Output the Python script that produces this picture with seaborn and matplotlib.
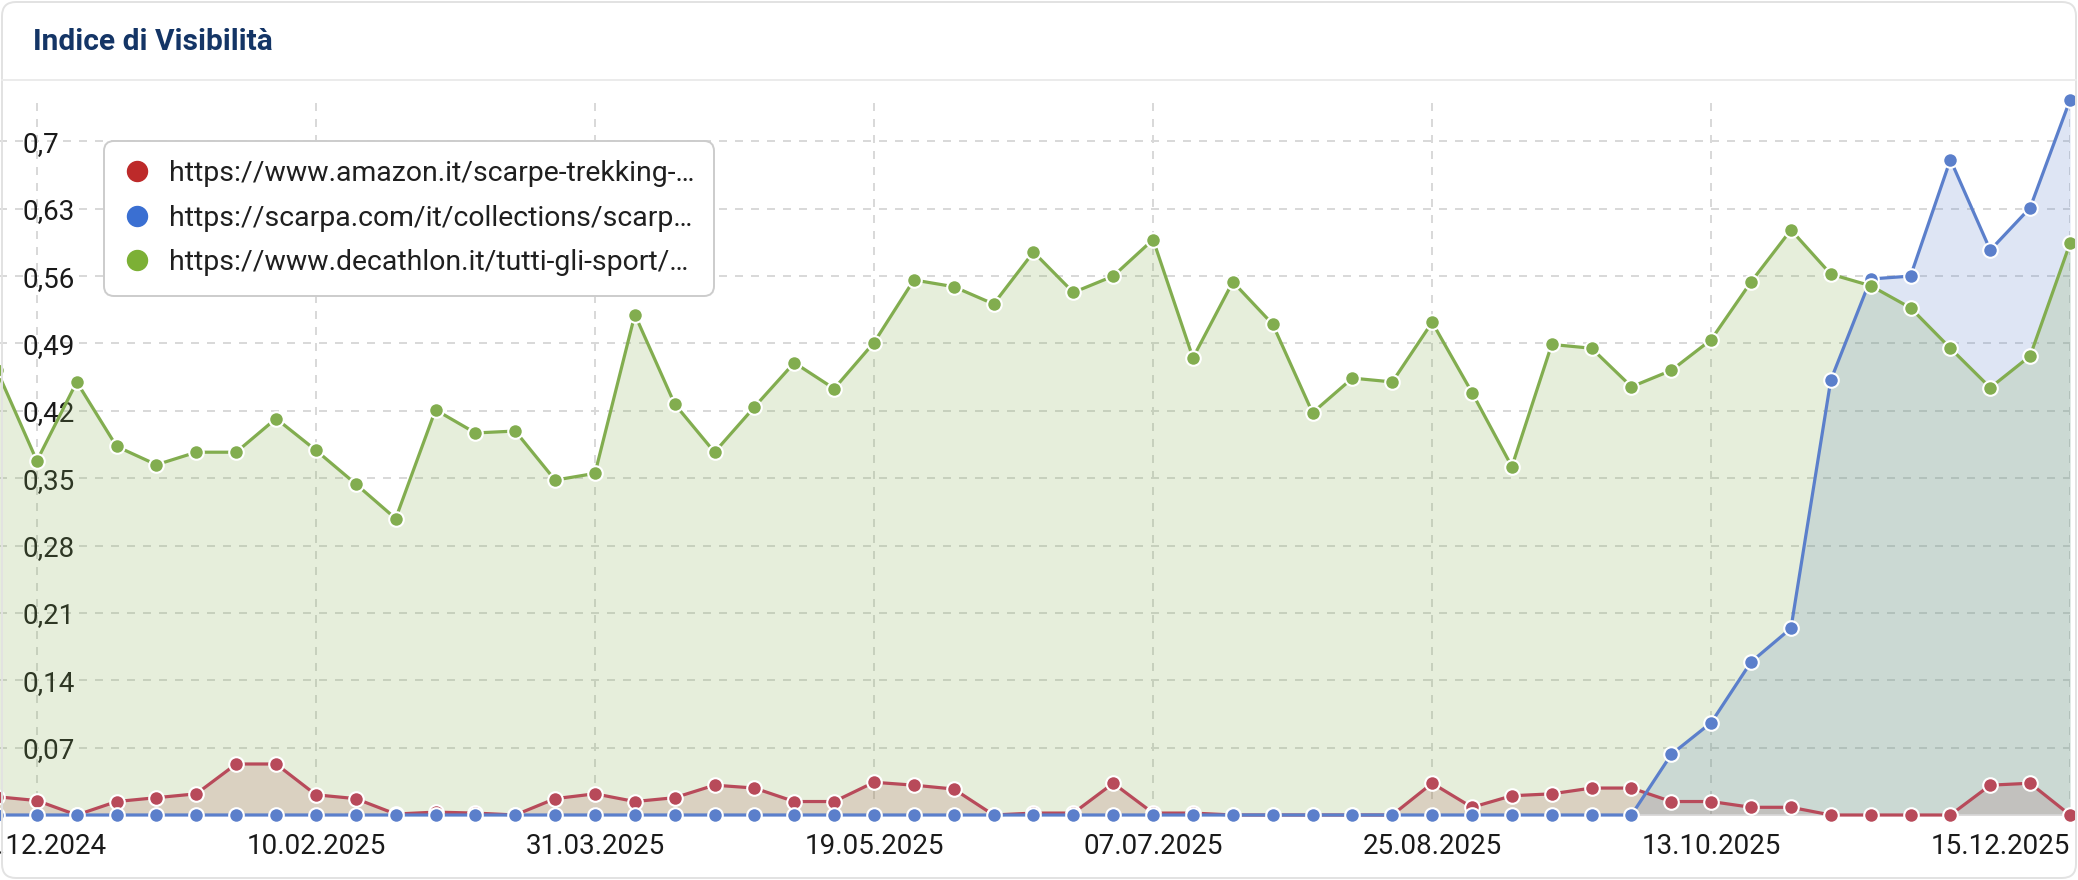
"""Indice di Visibilità: weekly visibility index of three URLs."""

import matplotlib.pyplot as plt
import pandas as pd
import seaborn as sns
from matplotlib.lines import Line2D
from matplotlib.patches import FancyBboxPatch
from matplotlib.transforms import IdentityTransform

W, H = 2078, 880

# weekly observations, Monday 16.12.2024 -> 15.12.2025
DATES = pd.date_range("2024-12-16", periods=53, freq="7D")

AMAZON = [
    0.019, 0.015, 0.000, 0.014, 0.018, 0.022, 0.053, 0.053, 0.021, 0.017, 0.001,
    0.003, 0.002, 0.000, 0.017, 0.022, 0.014, 0.018, 0.031, 0.028, 0.014,
    0.014, 0.034, 0.031, 0.027, 0.000, 0.002, 0.002, 0.033, 0.002, 0.002,
    0.000, 0.000, 0.000, 0.000, 0.000, 0.033, 0.008, 0.020, 0.022, 0.028, 0.028,
    0.014, 0.014, 0.008, 0.008, 0.000, 0.000, 0.000, 0.000, 0.031, 0.033, 0.000,
]
SCARPA = [
    0.000, 0.000, 0.000, 0.000, 0.000, 0.000, 0.000, 0.000, 0.000, 0.000, 0.000,
    0.000, 0.000, 0.000, 0.000, 0.000, 0.000, 0.000, 0.000, 0.000, 0.000,
    0.000, 0.000, 0.000, 0.000, 0.000, 0.000, 0.000, 0.000, 0.000, 0.000,
    0.000, 0.000, 0.000, 0.000, 0.000, 0.000, 0.000, 0.000, 0.000, 0.000, 0.000,
    0.063, 0.096, 0.159, 0.194, 0.452, 0.557, 0.560, 0.681, 0.587, 0.631, 0.743,
]
DECATHLON = [
    0.462, 0.368, 0.450, 0.383, 0.364, 0.377, 0.377, 0.412, 0.379, 0.344, 0.308,
    0.421, 0.397, 0.399, 0.348, 0.355, 0.520, 0.427, 0.377, 0.424, 0.470,
    0.443, 0.491, 0.556, 0.549, 0.531, 0.585, 0.543, 0.560, 0.598, 0.475,
    0.554, 0.510, 0.418, 0.454, 0.450, 0.512, 0.439, 0.362, 0.489, 0.485, 0.445,
    0.462, 0.494, 0.554, 0.608, 0.562, 0.550, 0.527, 0.485, 0.444, 0.477, 0.594,
]

SERIES_LABELS = [
    "https://www.amazon.it/scarpe-trekking-…",
    "https://scarpa.com/it/collections/scarp…",
    "https://www.decathlon.it/tutti-gli-sport/…",
]
LINE_COLORS = ["#b84a5a", "#5b7fcb", "#82ad4f"]
LEGEND_COLORS = ["#bd2a2a", "#3a6fd2", "#7cb035"]

X_TICKS = pd.to_datetime([
    "2024-12-23", "2025-02-10", "2025-03-31", "2025-05-19",
    "2025-07-07", "2025-08-25", "2025-10-13", "2025-12-15",
])
Y_TICKS = [0.07, 0.14, 0.21, 0.28, 0.35, 0.42, 0.49, 0.56, 0.63, 0.70]
Y_TICK_LABELS = ["0,07", "0,14", "0,21", "0,28", "0,35",
                 "0,42", "0,49", "0,56", "0,63", "0,7"]

TITLE = "Indice di Visibilità"


def px(x0, y0, x1, y1):
    """Pixel box (top-left origin) -> figure fraction rect."""
    return [x0 / W, 1 - y1 / H, (x1 - x0) / W, (y1 - y0) / H]


sns.set_theme(style="white")
plt.rcParams["font.family"] = ["Roboto", "DejaVu Sans"]

fig = plt.figure(figsize=(W / 100, H / 100), dpi=100)
fig.patch.set_facecolor("white")

# card frame, title and separator
card = FancyBboxPatch((2, 2), W - 4, H - 4, boxstyle="round,pad=0,rounding_size=14",
                      transform=IdentityTransform(), fill=False,
                      edgecolor="#e2e2e2", linewidth=1.4)
fig.patches.append(card)
fig.text(33 / W, 1 - 42 / H, TITLE, fontsize=21.5, fontweight="bold",
         color="#143566", ha="left", va="center")
fig.add_artist(Line2D([2 / W, (W - 2) / W], [1 - 80 / H] * 2,
                      color="#ebebeb", linewidth=1.4))

ax = fig.add_axes(px(-3, 100, 2070, 815))
ax.set_facecolor("none")

series = [AMAZON, SCARPA, DECATHLON]

for values, color in zip(series, LINE_COLORS):
    ax.fill_between(DATES, values, color=color, alpha=0.2, linewidth=0, zorder=1)

for values, color in zip(series, LINE_COLORS):
    sns.lineplot(x=DATES, y=values, ax=ax, color=color, linewidth=2.3,
                 marker="o", markersize=10.5, markeredgecolor="white",
                 markeredgewidth=1.5, legend=False, zorder=3)
    ax.lines[-1].set_clip_on(False)

ax.axhline(0, color="#d4d4d4", linewidth=1.4, zorder=2)

ax.set_xlim(DATES[0], DATES[-1])
ax.set_ylim(0, max(SCARPA))
ax.set_xlabel("")
ax.set_ylabel("")

ax.set_xticks(X_TICKS)
ax.set_xticklabels([d.strftime("%d.%m.%Y") for d in X_TICKS])
ax.set_yticks(Y_TICKS)
ax.set_yticklabels(Y_TICK_LABELS)

ax.grid(True, color="#d9d9d9", linewidth=1.44, linestyle=(0, (4, 4)), zorder=0)
for side in ax.spines.values():
    side.set_visible(False)

ax.tick_params(axis="x", length=0, pad=13, labelsize=20, labelcolor="#1a1a1a")
ax.tick_params(axis="y", length=0, pad=-18, labelsize=20, labelcolor="#1a1a1a")
for lbl in ax.get_yticklabels():
    lbl.set_horizontalalignment("left")
ax.get_xticklabels()[-1].set_horizontalalignment("right")

handles = [
    Line2D([], [], marker="o", linestyle="none", markersize=14.4,
           markerfacecolor=c, markeredgecolor=c)
    for c in LEGEND_COLORS
]
leg = ax.legend(handles, SERIES_LABELS, loc="upper left",
                bbox_to_anchor=(104 / W, 1 - 141 / H), bbox_transform=fig.transFigure,
                fontsize=20.4, frameon=True, fancybox=True, framealpha=1,
                edgecolor="#cccccc", facecolor="white",
                handlelength=1.0, handletextpad=0.62, borderpad=0.68,
                labelspacing=0.62, borderaxespad=0)
leg.get_frame().set_linewidth(1.4)
leg.get_frame().set_boxstyle("round,pad=0,rounding_size=0.35")
leg.set_zorder(10)
for txt in leg.get_texts():
    txt.set_color("#1f1f1f")

fig.savefig("out.png", dpi=100)
